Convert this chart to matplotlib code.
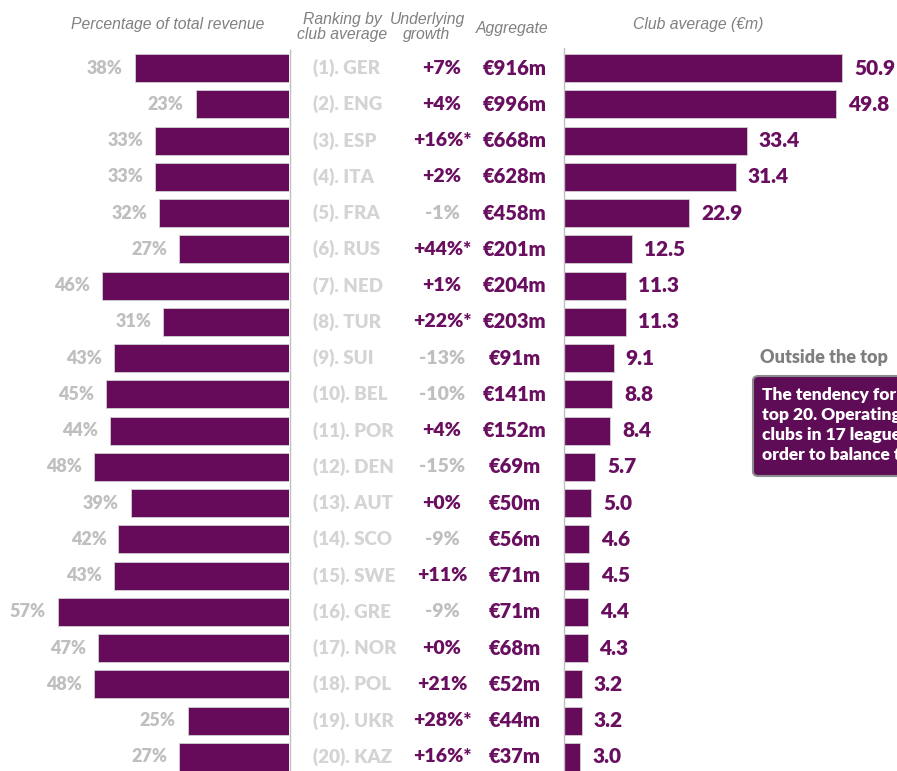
import matplotlib.pyplot as plt
from matplotlib.patches import FancyBboxPatch

# Data
countries = ['GER', 'ENG', 'ESP', 'ITA', 'FRA', 'RUS', 'NED', 'TUR', 'SUI', 'BEL',
             'POR', 'DEN', 'AUT', 'SCO', 'SWE', 'GRE', 'NOR', 'POL', 'UKR', 'KAZ']
pct_revenue = [38, 23, 33, 33, 32, 27, 46, 31, 43, 45, 44, 48, 39, 42, 43, 57, 47, 48, 25, 27]
growth = ['+7%', '+4%', '+16%*', '+2%', '-1%', '+44%*', '+1%', '+22%*', '-13%', '-10%',
          '+4%', '-15%', '+0%', '-9%', '+11%', '-9%', '+0%', '+21%', '+28%*', '+16%*']
aggregate = [916, 996, 668, 628, 458, 201, 204, 203, 91, 141, 152, 69, 50, 56, 71, 71, 68, 52, 44, 37]
club_avg = [50.9, 49.8, 33.4, 31.4, 22.9, 12.5, 11.3, 11.3, 9.1, 8.8, 8.4, 5.7, 5.0, 4.6, 4.5,
            4.4, 4.3, 3.2, 3.2, 3.0]

PURPLE = '#660a5a'
TXT_PURPLE = '#6a0f60'
GREY = '#bfbfbf'
LIGHT = '#d4d4d4'
HEAD = '#808080'
BOLD = 'Lato'
HEADFONT = 'Liberation Sans'
WEIGHT = 'heavy'

W, H = 897, 771
fig = plt.figure(figsize=(W / 100, H / 100), dpi=100)

def px_axes(x0, x1, y_top, y_bot):
    return fig.add_axes([x0 / W, 1 - y_bot / H, (x1 - x0) / W, (y_bot - y_top) / H])

rows = list(range(len(countries)))
ylim = (19.39, -0.5)

# Left panel: % of total revenue, bars grow leftwards
axl = px_axes(0, 289, 50, 771)
axl.barh(rows, pct_revenue, height=0.77, color=PURPLE, edgecolor='#d0d0d0', linewidth=0.6)
axl.set_xlim(289 / 4.06, 0)
axl.set_ylim(*ylim)
for i, v in enumerate(pct_revenue):
    axl.annotate(f'{v}%', (v, i), xytext=(-12, 0), textcoords='offset pixels',
                 ha='right', va='center', fontsize=13, fontweight=WEIGHT,
                 family=BOLD, color=GREY)
axl.axis('off')

# Middle panel: ranking, growth, aggregate
axm = px_axes(289, 564, 50, 771)
axm.set_xlim(289, 564)
axm.set_ylim(*ylim)
for i, c in enumerate(countries):
    axm.text(313, i, f'({i + 1}). {c}', ha='left', va='center', fontsize=13.5,
             fontweight=WEIGHT, family=BOLD, color=LIGHT)
    g = growth[i]
    axm.text(442, i, g, ha='center', va='center', fontsize=14, fontweight=WEIGHT,
             family=BOLD, color=GREY if g.startswith('-') else TXT_PURPLE)
    axm.text(515, i, f'€{aggregate[i]}m', ha='center', va='center', fontsize=14.5,
             fontweight=WEIGHT, family=BOLD, color=TXT_PURPLE)
axm.axis('off')

# Right panel: club average
axr = px_axes(564, 897, 50, 771)
axr.barh(rows, club_avg, height=0.77, color=PURPLE, edgecolor='#d0d0d0', linewidth=0.6)
axr.set_xlim(0, 333 / 5.47)
axr.set_ylim(*ylim)
for i, v in enumerate(club_avg):
    axr.annotate(f'{v:.1f}', (v, i), xytext=(12, 0), textcoords='offset pixels',
                 ha='left', va='center', fontsize=15, fontweight=WEIGHT,
                 family=BOLD, color=TXT_PURPLE, annotation_clip=False)
axr.axis('off')

# Separator lines
fig.add_artist(plt.Line2D([289.5 / W] * 2, [0, 1 - 50 / H], color=GREY, lw=1))
fig.add_artist(plt.Line2D([563.5 / W] * 2, [0, 1 - 48 / H], color=GREY, lw=1))

# Column headers
def head(x, y, s):
    fig.text(x / W, 1 - y / H, s, ha='center', va='center', fontsize=11.3,
             style='italic', family=HEADFONT, color=HEAD, linespacing=1.0)

head(168, 25, 'Percentage of total revenue')
head(342, 27, 'Ranking by\nclub average')
head(427, 27, 'Underlying\ngrowth')
head(512, 29, 'Aggregate')
head(698, 25, 'Club average (€m)')

# Side note (cut off at the right edge as in the source)
fig.text(760 / W, 1 - 357 / H, 'Outside the top', ha='left', va='center', fontsize=13,
         fontweight=WEIGHT, family=BOLD, color='#7f7f7f')
box = FancyBboxPatch((753 / W, 1 - 476 / H), 200 / W, 100 / H,
                     boxstyle='round,pad=0,rounding_size=0.006', transform=fig.transFigure,
                     facecolor='#5e0c56', edgecolor='#8c8c8c', linewidth=1.5)
fig.add_artist(box)
fig.text(762 / W, 1 - 425 / H,
         'The tendency for\ntop 20. Operating\nclubs in 17 league\norder to balance t',
         ha='left', va='center', fontsize=12.5, fontweight=WEIGHT, family=BOLD,
         color='white', linespacing=1.3)

fig.savefig('out.png', dpi=100)
